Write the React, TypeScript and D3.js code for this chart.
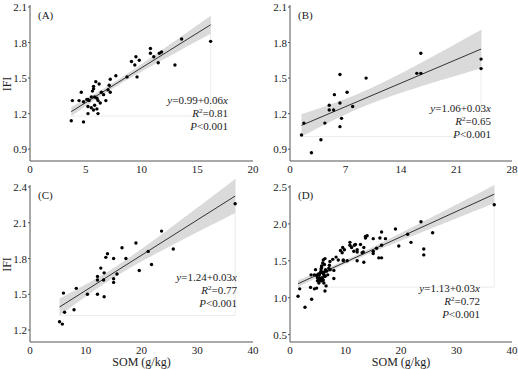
import * as d3 from 'd3'

// SOM (g/kg) vs IFI
const somA = [3.7, 4.8, 3.8, 4.6, 4.4, 4.8, 5.1, 5.2, 5.3, 5.2, 5.2, 5.5, 5.6, 5.7, 5.7, 5.9, 6.2, 5.5, 5.7, 5.8, 6.0, 6.1, 6.1, 5.8, 6.0, 6.3, 6.4, 6.6, 6.8, 7.0, 7.1, 7.2, 7.7, 7.2, 8.7, 9.1, 9.5, 9.4, 9.6, 9.8, 10.8, 10.8, 11.1, 11.6, 11.8, 11.5, 13.0, 13.6, 16.2]
const ifiA = [1.14, 1.13, 1.31, 1.38, 1.31, 1.30, 1.32, 1.32, 1.31, 1.26, 1.20, 1.34, 1.39, 1.41, 1.43, 1.47, 1.45, 1.25, 1.23, 1.27, 1.24, 1.20, 1.31, 1.34, 1.33, 1.29, 1.38, 1.36, 1.31, 1.40, 1.44, 1.49, 1.52, 1.38, 1.51, 1.64, 1.68, 1.61, 1.51, 1.65, 1.75, 1.71, 1.68, 1.71, 1.72, 1.63, 1.61, 1.83, 1.81]

const somB = [1.45, 1.75, 2.7, 3.9, 4.4, 4.95, 4.95, 5.5, 5.6, 6.3, 6.3, 6.3, 6.5, 7.2, 7.9, 9.6, 16.0, 16.5, 16.5, 24.1, 24.1]
const ifiB = [1.02, 1.12, 0.87, 0.98, 1.12, 1.27, 1.23, 1.23, 1.36, 1.53, 1.29, 1.09, 1.16, 1.38, 1.26, 1.50, 1.54, 1.54, 1.71, 1.66, 1.58]

const somC = [5.3, 5.8, 6.0, 6.2, 7.9, 8.3, 10.3, 12.1, 12.1, 12.1, 12.7, 13.2, 13.3, 13.3, 13.6, 13.9, 15.0, 15.0, 15.0, 15.6, 16.5, 17.2, 19.0, 19.6, 21.2, 21.8, 23.6, 25.7, 36.8]
const ifiC = [1.27, 1.25, 1.51, 1.35, 1.37, 1.55, 1.50, 1.65, 1.62, 1.50, 1.72, 1.62, 1.68, 1.48, 1.81, 1.84, 1.80, 1.63, 1.60, 1.67, 1.89, 1.80, 1.93, 1.70, 1.86, 1.75, 2.03, 1.88, 2.26]

// panel D pools all sites
const somD = [...somA, ...somB, ...somC]
const ifiD = [...ifiA, ...ifiB, ...ifiC]

const panelLabels = ['(A)', '(B)', '(C)', '(D)']
const equations = ['0.99+0.06', '1.06+0.03', '1.24+0.03', '1.13+0.03']
const r2Values = ['0.81', '0.65', '0.77', '0.72']
const xTicks = [[0, 5, 10, 15, 20], [0, 7, 14, 21, 28], [0, 10, 20, 30, 40], [0, 10, 20, 30, 40]]
const yTicks = [[0.9, 1.2, 1.5, 1.8, 2.1], [0.9, 1.2, 1.5, 1.8, 2.1], [1.2, 1.5, 1.8, 2.1, 2.4], [0.5, 1.0, 1.5, 2.0, 2.5]]

const FONT = '"Liberation Serif", "Times New Roman", serif'
const AXIS = '#555'

function fit(xs: number[], ys: number[]) {
  const n = xs.length
  const mx = d3.mean(xs)!, my = d3.mean(ys)!
  let sxx = 0, sxy = 0
  xs.forEach((x, i) => { sxx += (x - mx) ** 2; sxy += (x - mx) * (ys[i] - my) })
  const b = sxy / sxx, a = my - b * mx
  const sse = d3.sum(xs, (x, i) => (ys[i] - a - b * x) ** 2)
  const s = Math.sqrt(sse / (n - 2))
  const df = n - 2
  const t = 1.96 + 2.37 / df + 2.8 / (df * df)
  const half = (x: number) => t * s * Math.sqrt(1 / n + (x - mx) ** 2 / sxx)
  return { a, b, half }
}

interface PanelProps {
  idx: number
  xs: number[]
  ys: number[]
  xDomain: [number, number]
  yDomain: [number, number]
  left: number
  right: number
  top: number
  bottom: number
  showY: boolean
  showX: boolean
  textX: number
  textY: number
}

function Panel({ idx, xs, ys, xDomain, yDomain, left, right, top, bottom, showY, showX, textX, textY }: PanelProps) {
  const x = d3.scaleLinear().domain(xDomain).range([left, right])
  const y = d3.scaleLinear().domain(yDomain).range([bottom, top])
  const { a, b, half } = fit(xs, ys)
  const [x0, x1] = d3.extent(xs) as [number, number]
  const grid = d3.range(0, 61).map(i => x0 + (x1 - x0) * i / 60)
  const band = d3.area<number>()
    .x(d => x(d))
    .y0(d => y(a + b * d - half(d)))
    .y1(d => y(a + b * d + half(d)))(grid)!
  const lows = grid.map(d => a + b * d - half(d))
  const highs = grid.map(d => a + b * d + half(d))
  const minLow = d3.min(lows)!, maxHigh = d3.max(highs)!
  const fmt = idx === 3 ? d3.format('.1f') : (v: number) => String(v)
  const midY = (top + bottom) / 2

  return (
    <g fontFamily={FONT}>
      {/* faint bounding box of the band */}
      <line x1={x(x0)} x2={x(x1)} y1={y(minLow)} y2={y(minLow)} stroke="#e6e6e6" strokeWidth={0.8} />
      <line x1={x(x1)} x2={x(x1)} y1={y(maxHigh)} y2={y(minLow)} stroke="#e6e6e6" strokeWidth={0.8} />
      <path d={band} fill="#d3d3d3" opacity={0.85} />
      <line x1={x(x0)} x2={x(x1)} y1={y(a + b * x0)} y2={y(a + b * x1)} stroke="#333" strokeWidth={1} />
      {xs.map((v, i) => (
        <circle key={i} cx={x(v)} cy={y(ys[i])} r={1.7} fill="#000" />
      ))}
      {/* axes */}
      <line x1={left} x2={left} y1={top - 2} y2={bottom} stroke={AXIS} strokeWidth={1} />
      <line x1={left} x2={right} y1={bottom} y2={bottom} stroke={AXIS} strokeWidth={1} />
      {yTicks[idx].map(t => (
        <g key={t}>
          <line x1={left - 2} x2={left} y1={y(t)} y2={y(t)} stroke={AXIS} />
          <text x={left - 3} y={y(t) + 4} textAnchor="end" fontSize={11} fill="#222">{fmt(t)}</text>
        </g>
      ))}
      {xTicks[idx].map(t => (
        <text key={t} x={x(t)} y={bottom + 12} textAnchor="middle" fontSize={11} fill="#222">{t}</text>
      ))}
      <text x={left + 8} y={top + 12} fontSize={11} fill="#222">{panelLabels[idx]}</text>
      <text x={textX} y={textY} textAnchor="end" fontSize={11} fill="#222">
        <tspan fontStyle="italic">y</tspan>={equations[idx]}<tspan fontStyle="italic">x</tspan>
      </text>
      <text x={textX} y={textY + 13} textAnchor="end" fontSize={11} fill="#222">
        <tspan fontStyle="italic">R</tspan><tspan fontSize={7} dy={-4}>2</tspan><tspan dy={4}>=</tspan>{r2Values[idx]}
      </text>
      <text x={textX} y={textY + 26} textAnchor="end" fontSize={11} fill="#222">
        <tspan fontStyle="italic">P</tspan>&lt;0.001
      </text>
      {showY && (
        <text transform={`translate(11,${midY}) rotate(-90)`} textAnchor="middle" fontSize={12} fill="#222">IFI</text>
      )}
      {showX && (
        <text x={(left + right) / 2} y={bottom + 24} textAnchor="middle" fontSize={12} fill="#222">SOM (g/kg)</text>
      )}
    </g>
  )
}

export default function App() {
  return (
    <svg width={518} height={369} style={{ position: 'absolute', left: 0, top: 0, background: '#fff' }}>
      <Panel idx={0} xs={somA} ys={ifiA} xDomain={[0, 20]} yDomain={[0.8, 2.1]}
        left={30} right={253} top={7} bottom={161} showY showX={false} textX={228} textY={104} />
      <Panel idx={1} xs={somB} ys={ifiB} xDomain={[0, 28]} yDomain={[0.8, 2.1]}
        left={290} right={512} top={7} bottom={161} showY={false} showX={false} textX={491} textY={112} />
      <Panel idx={2} xs={somC} ys={ifiC} xDomain={[0, 40]} yDomain={[1.1, 2.4]}
        left={30} right={253} top={187} bottom={342} showY showX textX={237} textY={281} />
      <Panel idx={3} xs={somD} ys={ifiD} xDomain={[0, 40]} yDomain={[0.4, 2.5]}
        left={290} right={512} top={187} bottom={342} showY={false} showX textX={480} textY={292} />
    </svg>
  )
}
